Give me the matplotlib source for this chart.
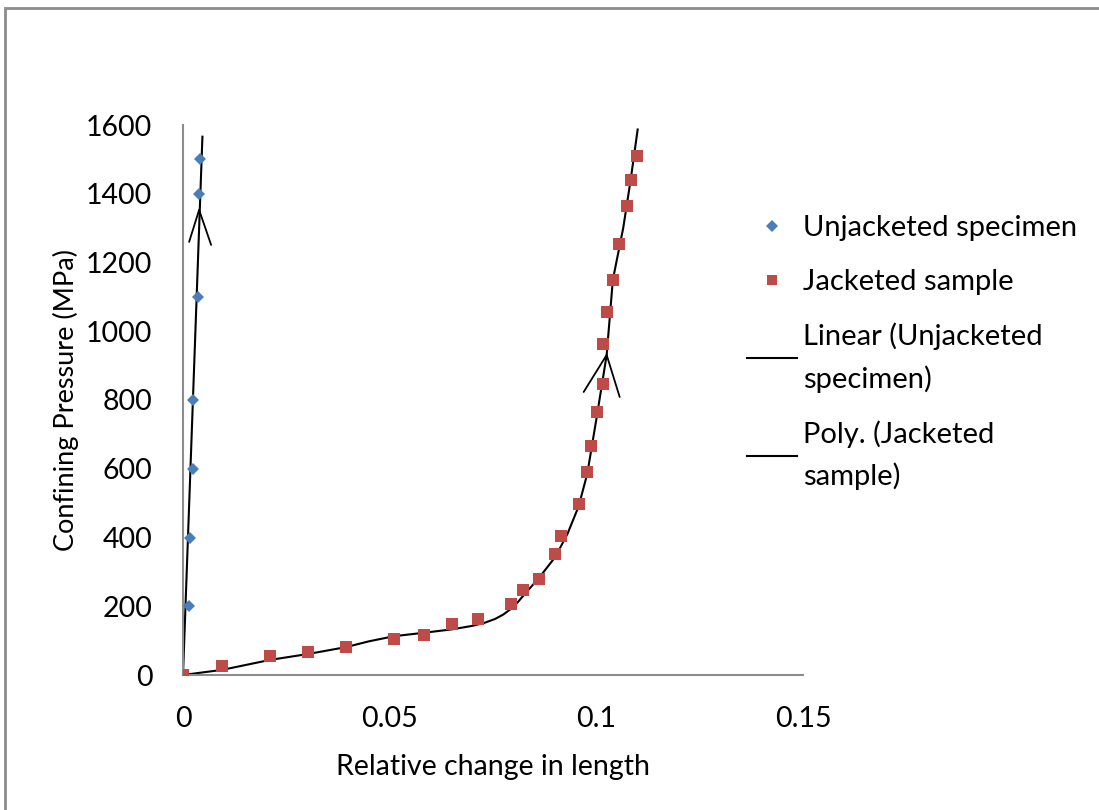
import numpy as np
import matplotlib
matplotlib.use("Agg")
import matplotlib.pyplot as plt
from matplotlib.patches import Rectangle
from matplotlib.lines import Line2D

plt.rcParams['font.family'] = ['Lato', 'DejaVu Sans']

# Unjacketed specimen (blue diamonds)
unj_x = [0.0, 0.0015, 0.0017, 0.0025, 0.0025, 0.0036, 0.0039, 0.0041]
unj_p = [0, 200, 400, 600, 800, 1100, 1400, 1500]

# Linear trendline for unjacketed specimen
unj_trend_x = [0.0, 0.0047]
unj_trend_p = [0, 1566]

# Jacketed sample (red squares)
jac_x = [0.0, 0.0095, 0.0211, 0.0302, 0.0394, 0.0511, 0.0584, 0.0652, 0.0714,
         0.0793, 0.0822, 0.0861, 0.0901, 0.0914, 0.0957, 0.0978, 0.0987, 0.1001,
         0.1017, 0.1016, 0.1026, 0.1040, 0.1054, 0.1074, 0.1083, 0.1098]
jac_p = [0, 26, 55, 67, 82, 106, 116, 148, 163,
         206, 247, 280, 352, 404, 497, 591, 666, 764,
         847, 962, 1056, 1149, 1254, 1364, 1440, 1511]

# Poly. trendline for jacketed sample
jac_trend_x = [0.0, 0.0095, 0.0211, 0.0302, 0.0394, 0.0450, 0.0511, 0.0584, 0.0652,
               0.0700, 0.0730, 0.0755, 0.0775, 0.0793, 0.0810, 0.0830, 0.0861,
               0.0901, 0.0930, 0.0957, 0.0978, 0.1001, 0.1025, 0.1040, 0.1065,
               0.1083, 0.1100]
jac_trend_p = [0, 15, 44, 61, 81, 98, 113, 123, 133,
               143, 152, 163, 176, 192, 212, 240, 282,
               344, 410, 490, 585, 751, 931, 1150, 1300,
               1440, 1587]

# loading direction chevrons: apex (x, p) and leg ends in pixels
arrow_apex = [(0.0039, 1353), (0.1025, 931)]
arrow_legs = [[(-10, -32), (12, -35)], [(-23, -37), (13, -42)]]

fig = plt.figure(figsize=(10.99, 8.10), dpi=100)
ax = fig.add_axes([183 / 1099, 1 - 675 / 810, 620 / 1099, 550 / 810])

ax.plot(jac_trend_x, jac_trend_p, color='black', lw=1.5, zorder=2)
ax.plot(unj_trend_x, unj_trend_p, color='black', lw=1.5, zorder=2)
ax.plot(unj_x, unj_p, 'D', color='#4a7ebb', ms=6.5, mew=0, zorder=3)
ax.plot(jac_x, jac_p, 's', color='#be4b48', ms=8, mew=0, zorder=3)

for (ax_x, ax_p), legs in zip(arrow_apex, arrow_legs):
    for dx, dy in legs:
        ax.annotate('', xy=(ax_x, ax_p), xytext=(dx, dy), textcoords='offset pixels',
                    arrowprops=dict(arrowstyle='-', color='black', lw=1.3,
                                    shrinkA=0, shrinkB=0))

ax.set_xlim(0, 0.15)
ax.set_ylim(0, 1600)
ax.set_xticks([0, 0.05, 0.1, 0.15])
ax.set_xticklabels(['0', '0.05', '0.1', '0.15'])
ax.set_yticks(range(0, 1601, 200))
ax.tick_params(length=0, labelsize=20.5, colors='black')
ax.tick_params(axis='y', pad=22)
ax.tick_params(axis='x', pad=22)
for s in ['top', 'right']:
    ax.spines[s].set_visible(False)
for s in ['left', 'bottom']:
    ax.spines[s].set_color('#8c8c8c')
    ax.spines[s].set_linewidth(1.5)

ax.set_xlabel('Relative change in length', fontsize=20.5, labelpad=16)
ax.set_ylabel('Confining Pressure (MPa)', fontsize=19.5, labelpad=5)

handles = [
    Line2D([], [], marker='D', color='#4a7ebb', ls='none', ms=6, mew=0),
    Line2D([], [], marker='s', color='#be4b48', ls='none', ms=7, mew=0),
    Line2D([], [], color='black', lw=1.5),
    Line2D([], [], color='black', lw=1.5),
]
labels = ['Unjacketed specimen', 'Jacketed sample',
          'Linear (Unjacketed\nspecimen)', 'Poly. (Jacketed\nsample)']
leg = fig.legend(handles, labels, loc='upper left',
                 bbox_to_anchor=(721 / 1099, 1 - 189 / 810),
                 frameon=False, fontsize=21, handlelength=1.7, handletextpad=0.2,
                 labelspacing=0.95)
for t in leg.get_texts():
    t.set_linespacing(1.65)

# outer chart border
fig.patches.append(Rectangle((5 / 1099, -0.05), 1.1, 1 - 8 / 810 + 0.05,
                             transform=fig.transFigure, fill=False,
                             edgecolor='#8c8c8c', lw=2))

fig.savefig('out.png', dpi=100)
